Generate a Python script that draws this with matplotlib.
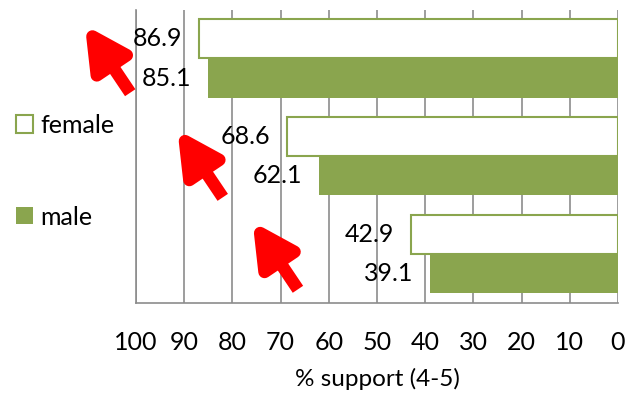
import matplotlib
matplotlib.use("Agg")
import matplotlib.pyplot as plt
import numpy as np

# datos
grupos = ['g1', 'g2', 'g3']
female = [86.9, 68.6, 42.9]
male = [85.1, 62.1, 39.1]
ticks_x = [100, 90, 80, 70, 60, 50, 40, 30, 20, 10, 0]
xlabel = '% support (4-5)'

# flechas rojas (punta, cola) en coordenadas de datos
flechas = [((110.6, -0.34), (101.2, 0.35)),
           ((91.4, 0.73), (82.0, 1.42)),
           ((75.8, 1.67), (66.4, 2.36))]

verde = '#8AA54E'
gris = '#8C8C8C'

plt.rcParams['font.family'] = ['Lato', 'DejaVu Sans']

fig = plt.figure(figsize=(6.27, 3.99), dpi=100)
ax = fig.add_axes([0.2169, 0.2406, 0.7687, 0.7354])

y = np.arange(len(grupos))
h = 0.4
b_f = ax.barh(y - h / 2, female, height=h, color='white', edgecolor=verde,
              linewidth=1.5, label='female', zorder=3)
b_m = ax.barh(y + h / 2, male, height=h, color=verde, edgecolor=verde,
              linewidth=0, label='male', zorder=3)

for barras, vals in [(b_f, female), (b_m, male)]:
    for b, v in zip(barras, vals):
        ax.annotate(f'{v:.1f}', xy=(v, b.get_y() + b.get_height() / 2),
                    xytext=(-12, 0), textcoords='offset points',
                    ha='right', va='center', fontsize=18, zorder=4)

ax.set_xlim(100, 0)
ax.set_ylim(2.5, -0.5)
ax.set_xticks(ticks_x)
ax.set_xticklabels([str(t) for t in ticks_x], fontsize=18)
ax.set_yticks([])
ax.tick_params(axis='x', length=0, pad=20)
ax.grid(axis='x', color=gris, linewidth=1.2, zorder=0)
ax.set_axisbelow(True)
for s in ['top', 'right']:
    ax.spines[s].set_visible(False)
for s in ['left', 'bottom']:
    ax.spines[s].set_color(gris)
    ax.spines[s].set_linewidth(1.2)
ax.set_xlabel(xlabel, fontsize=17.5, labelpad=10)

fig.legend(handles=[b_f, b_m], loc='center left', bbox_to_anchor=(0.0255, 0.571),
           frameon=False, fontsize=18, handlelength=0.68, handleheight=0.68,
           handletextpad=0.3, labelspacing=2.75, borderpad=0, borderaxespad=0)

for punta, cola in flechas:
    ax.annotate('', xy=punta, xytext=cola, annotation_clip=False,
                arrowprops=dict(arrowstyle='-|>,head_length=2.5,head_width=1.3',
                                mutation_scale=10, lw=9, color='red',
                                shrinkA=0, shrinkB=0, joinstyle='round',
                                capstyle='butt'), zorder=5)

plt.savefig('out.png', dpi=100)
